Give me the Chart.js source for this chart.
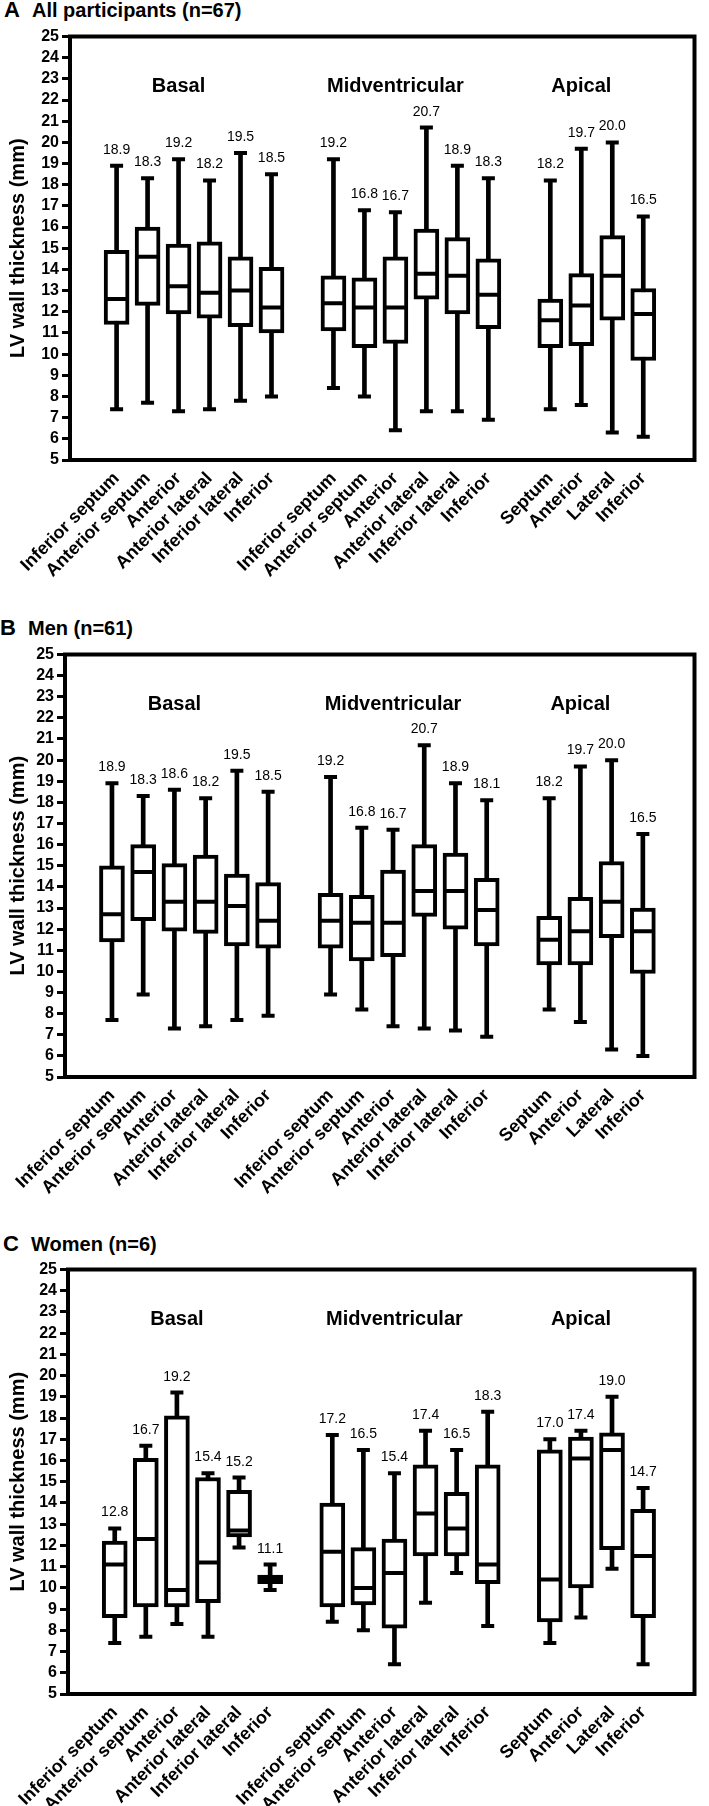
<!DOCTYPE html>
<html>
<head>
<meta charset="utf-8">
<script src="https://cdn.jsdelivr.net/npm/chart.js@4.4.1/dist/chart.umd.min.js"></script>
<style>
  body { margin: 0; background: #fff; }
  #page { position: relative; width: 709px; height: 1806px; overflow: hidden;
          font-family: "Liberation Sans", Arial, sans-serif; }
  .ttl { position: absolute; left: 4px; font-weight: bold; font-size: 20px; line-height: 20px;
         color: #000; white-space: nowrap; }
  .ttl b { display: inline-block; width: 28px; font-size: 22px; }
  canvas { position: absolute; left: 0; }
</style>
</head>
<body>
<div id="page">
  <div class="ttl" style="top:0px"><b>A</b>All participants (n=67)</div>
  <canvas id="chartA" width="709" height="570" style="top:22px"></canvas>
  <div class="ttl" style="top:618px;left:0px"><b>B</b>Men (n=61)</div>
  <canvas id="chartB" width="709" height="570" style="top:640px"></canvas>
  <div class="ttl" style="top:1234px;left:3px"><b>C</b>Women (n=6)</div>
  <canvas id="chartC" width="709" height="551" style="top:1255px"></canvas>
</div>
<script>
// segment names per level
const basalSegments = ['Inferior septum', 'Anterior septum', 'Anterior', 'Anterior lateral', 'Inferior lateral', 'Inferior'];
const midSegments = ['Inferior septum', 'Anterior septum', 'Anterior', 'Anterior lateral', 'Inferior lateral', 'Inferior'];
const apicalSegments = ['Septum', 'Anterior', 'Lateral', 'Inferior'];
const groupNames = ['Basal', 'Midventricular', 'Apical'];

// A: all participants (basal 6, mid 6, apical 4)
const allMax = [18.9, 18.3, 19.2, 18.2, 19.5, 18.5, 19.2, 16.8, 16.7, 20.7, 18.9, 18.3, 18.2, 19.7, 20.0, 16.5];
const allQ3  = [14.9, 16.0, 15.2, 15.3, 14.6, 14.1, 13.7, 13.6, 14.6, 15.9, 15.5, 14.5, 12.6, 13.8, 15.6, 13.1];
const allMed = [12.6, 14.6, 13.2, 12.9, 13.0, 12.2, 12.4, 12.2, 12.2, 13.8, 13.7, 12.8, 11.6, 12.3, 13.7, 11.9];
const allQ1  = [11.4, 12.3, 11.9, 11.7, 11.3, 11.0, 11.1, 10.3, 10.5, 12.6, 11.9, 11.2, 10.3, 10.4, 11.6, 9.7];
const allMin = [7.4, 7.7, 7.3, 7.4, 7.8, 8.0, 8.4, 8.0, 6.4, 7.3, 7.3, 6.9, 7.4, 7.6, 6.3, 6.1];

// B: men
const menMax = [18.9, 18.3, 18.6, 18.2, 19.5, 18.5, 19.2, 16.8, 16.7, 20.7, 18.9, 18.1, 18.2, 19.7, 20.0, 16.5];
const menQ3  = [15.0, 16.0, 15.1, 15.5, 14.6, 14.2, 13.7, 13.6, 14.8, 16.0, 15.6, 14.4, 12.6, 13.5, 15.2, 13.0];
const menMed = [12.7, 14.7, 13.3, 13.3, 13.1, 12.4, 12.4, 12.3, 12.3, 13.8, 13.8, 12.9, 11.5, 11.9, 13.3, 11.9];
const menQ1  = [11.4, 12.4, 11.9, 11.8, 11.2, 11.1, 11.1, 10.5, 10.7, 12.6, 12.0, 11.2, 10.3, 10.3, 11.6, 9.9];
const menMin = [7.7, 8.9, 7.3, 7.4, 7.7, 7.9, 8.9, 8.2, 7.4, 7.3, 7.2, 6.9, 8.2, 7.6, 6.3, 6.0];

// C: women
const womenMax = [12.8, 16.7, 19.2, 15.4, 15.2, 11.1, 17.2, 16.5, 15.4, 17.4, 16.5, 18.3, 17.0, 17.4, 19.0, 14.7];
const womenQ3  = [12.2, 16.1, 18.1, 15.2, 14.6, 10.6, 14.0, 11.9, 12.3, 15.8, 14.5, 15.8, 16.5, 17.1, 17.3, 13.7];
const womenMed = [11.1, 12.3, 9.9, 11.2, 12.7, 10.4, 11.7, 10.0, 10.7, 13.5, 12.8, 11.1, 10.4, 16.1, 16.5, 11.5];
const womenQ1  = [8.6, 9.1, 9.1, 9.3, 12.4, 10.2, 9.1, 9.2, 8.1, 11.5, 11.5, 10.2, 8.4, 10.0, 11.8, 8.6];
const womenMin = [7.4, 7.7, 8.3, 7.7, 11.9, 9.9, 8.4, 8.0, 6.4, 9.3, 10.7, 8.2, 7.4, 8.6, 10.9, 6.4];

const FONT = '"Liberation Sans", Arial, sans-serif';
Chart.defaults.font.family = FONT;
Chart.defaults.color = '#000';

// slot positions on the x axis, one empty slot between levels
const slots = [];
const slotNames = {};
const groupCenters = [];
let pos = 1;
[basalSegments, midSegments, apicalSegments].forEach(seg => {
  const start = pos;
  seg.forEach(name => { slotNames[pos] = name; slots.push(pos); pos++; });
  groupCenters.push((start + pos - 1) / 2 - 0.5);
  pos++;
});

const framePlugin = {
  id: 'frame',
  afterDatasetsDraw(chart) {
    const { ctx, chartArea: a } = chart;
    ctx.save();
    ctx.lineWidth = 4;
    ctx.strokeStyle = '#000';
    ctx.strokeRect(a.left, a.top, a.right - a.left, a.bottom - a.top);
    ctx.restore();
  }
};

const textPlugin = {
  id: 'boxText',
  afterDatasetsDraw(chart) {
    const { ctx, chartArea, scales } = chart;
    ctx.save();
    ctx.fillStyle = '#000';
    ctx.textAlign = 'center';
    ctx.textBaseline = 'alphabetic';
    ctx.font = '14px ' + FONT;
    const capSet = chart.data.datasets[3];
    chart.getDatasetMeta(3).data.forEach((pt, i) => {
      ctx.fillText(capSet.data[i].y.toFixed(1), pt.x, pt.y - 12);
    });
    ctx.font = 'bold 20px ' + FONT;
    groupNames.forEach((name, i) => {
      ctx.fillText(name, scales.x.getPixelForValue(groupCenters[i]), chartArea.top + 55);
    });
    ctx.restore();
  }
};

function pts(values) {
  return values.map((v, i) => ({ x: slots[i], y: v }));
}

function makePanel(id, mx, q3, med, q1, mn, geo) {
  const capStyle = {
    type: 'line', showLine: false, pointStyle: 'line', pointRadius: 6.5,
    pointBorderWidth: 4, pointBorderColor: '#000', pointBackgroundColor: '#000', order: 2
  };
  new Chart(document.getElementById(id), {
    type: 'bar',
    data: {
      datasets: [
        { label: 'box', data: slots.map((s, i) => ({ x: s, y: [q1[i], q3[i]] })),
          backgroundColor: '#fff', borderColor: '#000', borderWidth: 4, borderSkipped: false,
          barThickness: 25, grouped: false, order: 1 },
        { label: 'range', data: slots.map((s, i) => ({ x: s, y: [mn[i], mx[i]] })),
          backgroundColor: '#000', borderWidth: 0, barThickness: 4, grouped: false, order: 3 },
        { label: 'median', type: 'line', data: pts(med), showLine: false, pointStyle: 'line',
          pointRadius: 10.5, pointBorderWidth: 4, pointBorderColor: '#000', order: 0 },
        Object.assign({ label: 'max', data: pts(mx) }, capStyle),
        Object.assign({ label: 'min', data: pts(mn) }, capStyle)
      ]
    },
    options: {
      responsive: false,
      animation: false,
      events: [],
      layout: { padding: { top: 14, right: geo.right, left: 0, bottom: 0 } },
      plugins: { legend: { display: false }, tooltip: { enabled: false } },
      scales: {
        x: {
          type: 'linear', min: 0, max: 19.15,
          afterFit: s => { s.height = geo.xHeight; },
          grid: { display: false, drawTicks: false },
          border: { display: false },
          ticks: {
            stepSize: 1, autoSkip: false, includeBounds: false, maxTicksLimit: 100,
            maxRotation: 45, minRotation: 45, padding: 8, color: '#000',
            font: { weight: 'bold', size: 18 },
            callback: v => slotNames[v] || ''
          }
        },
        y: {
          min: 5, max: 25,
          afterFit: s => { s.width = geo.yWidth; },
          grid: { drawOnChartArea: false, drawTicks: true, tickLength: 8, tickWidth: 3, tickColor: '#000' },
          border: { display: false },
          ticks: { stepSize: 1, autoSkip: false, maxTicksLimit: 100, padding: 3, color: '#000',
                   font: { weight: 'bold', size: 16 } },
          title: { display: true, text: 'LV wall thickness (mm)', color: '#000',
                   font: { weight: 'bold', size: 20 }, padding: { top: 6, bottom: 0 } }
        }
      }
    },
    plugins: [framePlugin, textPlugin]
  });
}

makePanel('chartA', allMax, allQ3, allMed, allQ1, allMin, { yWidth: 70, right: 3, xHeight: 132 });
makePanel('chartB', menMax, menQ3, menMed, menQ1, menMin, { yWidth: 65, right: 7, xHeight: 133 });
makePanel('chartC', womenMax, womenQ3, womenMed, womenQ1, womenMin, { yWidth: 68, right: 3, xHeight: 112 });
</script>
</body>
</html>
